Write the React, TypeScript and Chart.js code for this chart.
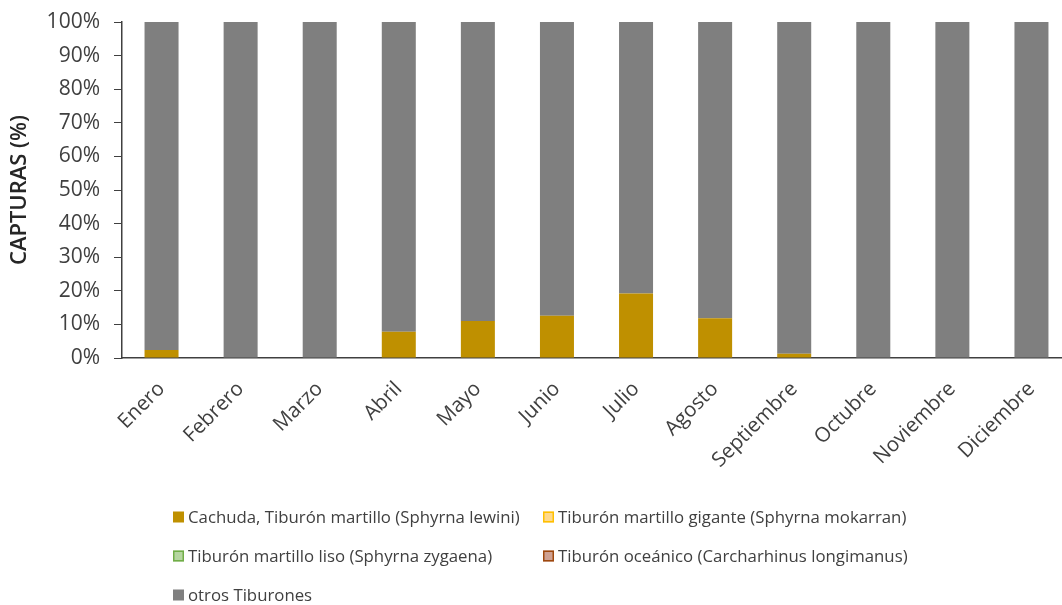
import { useEffect, useRef } from 'react';
import { Chart, registerables } from 'chart.js';

Chart.register(...registerables);

// Months on the category axis
const months = [
  'Enero', 'Febrero', 'Marzo', 'Abril', 'Mayo', 'Junio',
  'Julio', 'Agosto', 'Septiembre', 'Octubre', 'Noviembre', 'Diciembre',
];

// Share of the monthly catch (%) per species group
const sphyrnaLewini = [2.4, 0, 0, 7.8, 11.0, 12.6, 19.2, 11.8, 1.3, 0, 0, 0];
const sphyrnaMokarran = [0, 0, 0, 0, 0, 0, 0, 0, 0, 0, 0, 0];
const sphyrnaZygaena = [0, 0, 0, 0, 0, 0, 0, 0, 0, 0, 0, 0];
const carcharhinusLongimanus = [0, 0, 0, 0, 0, 0, 0, 0, 0, 0, 0, 0];
const otrosTiburones = [97.6, 100, 100, 92.2, 89.0, 87.4, 80.8, 88.2, 98.7, 100, 100, 100];

// Series names
const seriesNames = [
  'Cachuda, Tiburón martillo (Sphyrna lewini)',
  'Tiburón martillo gigante (Sphyrna mokarran)',
  'Tiburón martillo liso (Sphyrna zygaena)',
  'Tiburón oceánico (Carcharhinus longimanus)',
  'otros Tiburones',
];

const yAxisTitle = 'CAPTURAS (%)';

const FONT = '"Open Sans", "Noto Sans", sans-serif';
const TEXT_COLOR = '#404040';
const AXIS_COLOR = '#404040';

// Two-column legend laid out below the plot
const columnLegend = {
  id: 'columnLegend',
  afterDraw(chart: any) {
    const ctx: CanvasRenderingContext2D = chart.ctx;
    const colX = [173, 543];
    const rowY = [517, 556, 595];
    const box = 11;
    ctx.save();
    ctx.font = `16.8px ${FONT}`;
    ctx.textBaseline = 'middle';
    ctx.textAlign = 'left';
    chart.data.datasets.forEach((ds: any, i: number) => {
      const x = colX[i % 2];
      const y = rowY[Math.floor(i / 2)];
      ctx.fillStyle = ds.backgroundColor;
      ctx.fillRect(x, y - box / 2, box, box);
      if (ds.legendBorder) {
        ctx.strokeStyle = ds.legendBorder;
        ctx.lineWidth = 1.5;
        ctx.strokeRect(x + 0.75, y - box / 2 + 0.75, box - 1.5, box - 1.5);
      }
      ctx.fillStyle = TEXT_COLOR;
      ctx.fillText(ds.label, x + box + 4, y + 1);
    });
    ctx.restore();
  },
};

export default function App() {
  const canvasRef = useRef<HTMLCanvasElement | null>(null);

  useEffect(() => {
    if (!canvasRef.current) return;
    const chart = new Chart(canvasRef.current, {
      type: 'bar',
      data: {
        labels: months,
        datasets: [
          { label: seriesNames[0], data: sphyrnaLewini, backgroundColor: '#BF9000', legendBorder: null },
          { label: seriesNames[1], data: sphyrnaMokarran, backgroundColor: '#FFD98C', legendBorder: '#FFC000' },
          { label: seriesNames[2], data: sphyrnaZygaena, backgroundColor: '#B5D6A0', legendBorder: '#70AD47' },
          { label: seriesNames[3], data: carcharhinusLongimanus, backgroundColor: '#CFA192', legendBorder: '#9E480E' },
          { label: seriesNames[4], data: otrosTiburones, backgroundColor: '#7F7F7F', legendBorder: null },
        ] as any,
      },
      options: {
        animation: false,
        responsive: false,
        maintainAspectRatio: false,
        layout: { padding: { top: 22, right: 4, left: 0, bottom: 0 } },
        datasets: {
          bar: { barPercentage: 0.43, categoryPercentage: 1, borderWidth: 0 },
        },
        plugins: {
          legend: { display: false },
          tooltip: { enabled: false },
        },
        scales: {
          x: {
            stacked: true,
            grid: { display: false, drawTicks: false },
            border: { display: true, color: AXIS_COLOR, width: 1.5 },
            ticks: {
              autoSkip: false,
              minRotation: 45,
              maxRotation: 45,
              padding: 19,
              color: TEXT_COLOR,
              font: { family: FONT, size: 20.5 },
            },
            afterFit(scale: any) {
              scale.height = 247;
            },
          },
          y: {
            stacked: true,
            min: 0,
            max: 100,
            grid: {
              drawOnChartArea: false,
              drawTicks: true,
              tickLength: 8,
              color: AXIS_COLOR,
              lineWidth: 1,
            },
            border: { display: true, color: AXIS_COLOR, width: 1.5 },
            ticks: {
              stepSize: 10,
              padding: 14,
              color: TEXT_COLOR,
              font: { family: FONT, size: 21 },
              callback: (v: any) => `${v}%`,
            },
            title: {
              display: true,
              text: yAxisTitle,
              color: '#262626',
              font: { family: FONT, size: 22, weight: 600 },
              padding: { top: 7, bottom: 0 },
            },
            afterFit(scale: any) {
              scale.width = 122;
              // only the half-height of the end labels needs room
              scale.paddingTop = 12;
              scale.paddingBottom = 12;
            },
          },
        },
      },
      plugins: [columnLegend],
    });
    return () => chart.destroy();
  }, []);

  return (
    <div style={{ width: 1062, height: 605, overflow: 'hidden', background: '#fff' }}>
      <style>{'body{margin:0;overflow:hidden;}'}</style>
      <canvas ref={canvasRef} width={1075} height={605} style={{ display: 'block' }} />
    </div>
  );
}
